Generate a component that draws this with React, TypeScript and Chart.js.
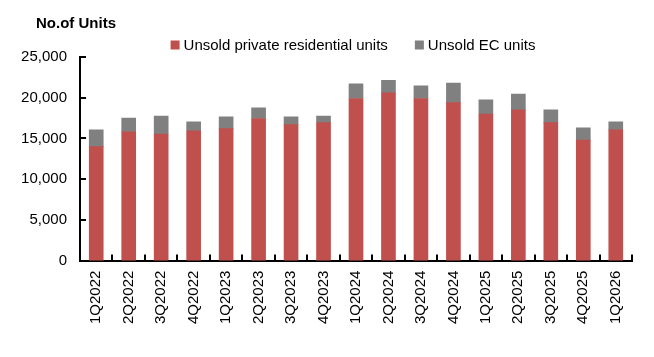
import React, { useEffect, useRef } from "react";
import { Chart, registerables } from "chart.js";

Chart.register(...registerables);

const categories = [
  "1Q2022", "2Q2022", "3Q2022", "4Q2022",
  "1Q2023", "2Q2023", "3Q2023", "4Q2023",
  "1Q2024", "2Q2024", "3Q2024", "4Q2024",
  "1Q2025", "2Q2025", "3Q2025", "4Q2025",
  "1Q2026",
];
const privateUnits = [
  14000, 15800, 15550, 15950,
  16200, 17450, 16700, 16950,
  19900, 20600, 19900, 19400,
  18000, 18500, 16950, 14800,
  16050,
];
const ecUnits = [
  2050, 1700, 2200, 1100,
  1450, 1300, 950, 800,
  1800, 1550, 1550, 2400,
  1750, 1950, 1550, 1500,
  1000,
];
const seriesNames = ["Unsold private residential units", "Unsold EC units"];
const seriesColors = ["#C0504D", "#808080"];
const titleText = "No.of Units";
const yMax = 25000;
const yStep = 5000;

const FONT = "'Liberation Sans', Arial, sans-serif";

const innerTicks = {
  id: "innerTicks",
  afterDraw(chart: any) {
    const { ctx, scales } = chart;
    const x = scales.x;
    const y = scales.y;
    ctx.save();
    ctx.strokeStyle = "#000";
    ctx.lineWidth = 2;
    ctx.beginPath();
    y.ticks.forEach((t: any) => {
      const py = Math.round(y.getPixelForValue(t.value));
      ctx.moveTo(x.left, py);
      ctx.lineTo(x.left + 6, py);
    });
    const n = categories.length;
    for (let i = 0; i < n; i++) {
      let px: number;
      if (i < n - 1) px = (x.getPixelForValue(i) + x.getPixelForValue(i + 1)) / 2;
      else px = x.right;
      px = Math.round(px);
      ctx.moveTo(px, y.bottom);
      ctx.lineTo(px, y.bottom - 6);
    }
    ctx.stroke();
    ctx.restore();
  },
};

const headerPlugin = {
  id: "header",
  afterDraw(chart: any) {
    const { ctx, chartArea } = chart;
    ctx.save();
    ctx.fillStyle = "#000";
    ctx.textBaseline = "middle";
    ctx.textAlign = "left";
    ctx.font = `bold 15px ${FONT}`;
    ctx.fillText(titleText, chartArea.left - 44, 24);
    ctx.font = `15px ${FONT}`;
    const box = 9;
    const gapText = 4;
    const gapItem = 27;
    const widths = chart.data.datasets.map(
      (d: any) => box + gapText + ctx.measureText(d.label).width
    );
    const total = widths.reduce((a: number, b: number) => a + b, 0) + gapItem * (widths.length - 1);
    let cx = (chartArea.left + chartArea.right) / 2 - total / 2 - 3;
    const cy = 45;
    chart.data.datasets.forEach((d: any, i: number) => {
      ctx.fillStyle = d.backgroundColor;
      ctx.fillRect(cx, cy - box / 2, box, box);
      ctx.fillStyle = "#000";
      ctx.fillText(d.label, cx + box + gapText, cy + 1);
      cx += widths[i] + gapItem;
    });
    ctx.restore();
  },
};

export default function App() {
  const ref = useRef<HTMLCanvasElement | null>(null);
  useEffect(() => {
    if (!ref.current) return;
    Chart.defaults.color = "#000";
    const chart = new Chart(ref.current, {
      type: "bar",
      data: {
        labels: categories,
        datasets: [
          {
            label: seriesNames[0],
            data: privateUnits,
            backgroundColor: seriesColors[0],
            barThickness: 14,
            stack: "s",
          },
          {
            label: seriesNames[1],
            data: ecUnits,
            backgroundColor: seriesColors[1],
            barThickness: 14,
            stack: "s",
          },
        ],
      },
      options: {
        animation: false,
        responsive: false,
        maintainAspectRatio: false,
        layout: { padding: { left: 0, right: 22, top: 57, bottom: 23 } },
        plugins: {
          title: { display: false },
          legend: { display: false },
          tooltip: { enabled: false },
        },
        scales: {
          x: {
            stacked: true,
            grid: { display: false, drawTicks: false },
            border: { display: true, color: "#000", width: 2 },
            ticks: {
              maxRotation: 90,
              minRotation: 90,
              padding: 10,
              color: "#000",
              font: { family: FONT, size: 15 },
              autoSkip: false,
            },
          },
          y: {
            stacked: true,
            min: 0,
            max: yMax,
            grid: { display: false, drawTicks: false },
            border: { display: true, color: "#000", width: 2 },
            ticks: {
              stepSize: yStep,
              padding: 13,
              color: "#000",
              font: { family: FONT, size: 15 },
              callback: (v: any) => Number(v).toLocaleString("en-US"),
            },
            afterFit: (s: any) => {
              s.width = 80;
            },
          },
        },
      },
      plugins: [innerTicks, headerPlugin],
    });
    return () => chart.destroy();
  }, []);
  return (
    <div style={{ position: "fixed", left: 0, top: 0, width: 654, height: 357, background: "#fff" }}>
      <canvas ref={ref} width={654} height={357} />
    </div>
  );
}
